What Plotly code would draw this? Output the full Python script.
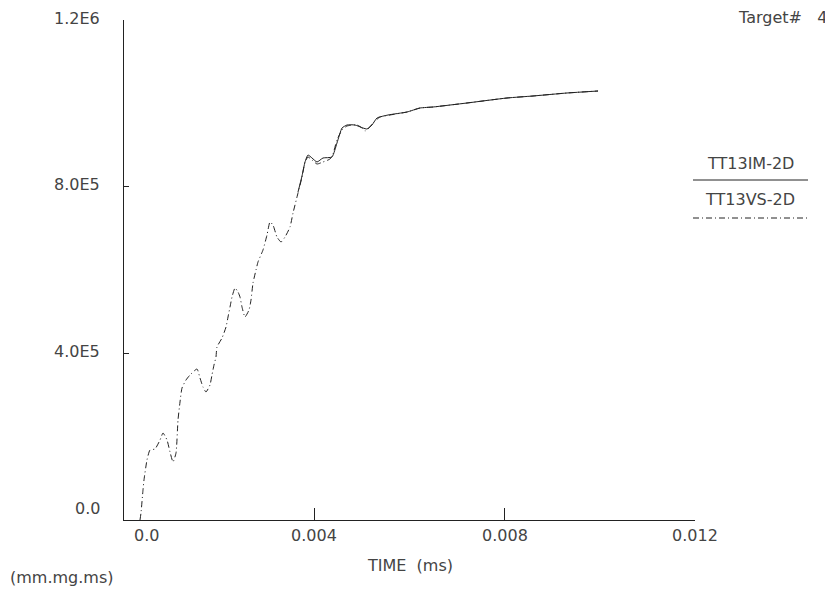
import plotly.graph_objects as go

# TT13VS-2D (dash-dot)
vs_time = [0.000336, 0.000357, 0.000399, 0.000420, 0.000483, 0.000546, 0.000651, 0.000757,
           0.000820, 0.000904, 0.000967, 0.001030, 0.001093, 0.001135, 0.001177, 0.001219,
           0.001303, 0.001387, 0.001534, 0.001597, 0.001660, 0.001723, 0.001807, 0.001849,
           0.001891, 0.001933, 0.001954, 0.002060, 0.002144, 0.002186, 0.002228, 0.002270,
           0.002333, 0.002396, 0.002438, 0.002480, 0.002543, 0.002627, 0.002669, 0.002711,
           0.002774, 0.002816, 0.002921, 0.003005, 0.003068, 0.003131, 0.003215, 0.003300,
           0.003384, 0.003489, 0.003552, 0.003657, 0.003741, 0.003804, 0.003867, 0.003951,
           0.004056, 0.004182, 0.004329, 0.004392, 0.004476, 0.004582, 0.004687, 0.004897,
           0.005002, 0.005065, 0.005128, 0.005233, 0.005380, 0.005590, 0.005948, 0.006221,
           0.006494, 0.007208, 0.008049, 0.008596, 0.009310, 0.009962]
vs_value = [0, 16800, 72000, 96000, 144000, 168000, 170400, 192000,
            208800, 192000, 163200, 139200, 160800, 240000, 283200, 316800,
            336000, 348000, 362400, 340800, 319200, 307200, 324000, 348000,
            372000, 391200, 415200, 436800, 463200, 487200, 511200, 535200,
            556800, 547200, 535200, 511200, 487200, 504000, 528000, 568800,
            600000, 619200, 648000, 684000, 715200, 708000, 679200, 667200,
            679200, 703200, 736800, 784800, 823200, 859200, 871200, 864000,
            854400, 859200, 866400, 878400, 912000, 936000, 945600, 948000,
            940800, 933600, 938400, 952800, 967200, 972000, 979200, 988800,
            991200, 1000800, 1012800, 1017600, 1024800, 1029600]

# TT13IM-2D (solid)
im_time = [0.003657, 0.003741, 0.003804, 0.003867, 0.003951, 0.004056, 0.004182, 0.004371,
           0.004476, 0.004582, 0.004687, 0.004855, 0.005023, 0.005107, 0.005212, 0.005317,
           0.005548, 0.005948, 0.006221, 0.006494, 0.007208, 0.008049, 0.008596, 0.009310,
           0.009962]
im_value = [787200, 825600, 859200, 876000, 868800, 859200, 868800, 871200,
            904800, 940800, 948000, 948000, 940800, 938400, 948000, 964800,
            972000, 979200, 988800, 991200, 1000800, 1012800, 1017600, 1024800,
            1029600]

x_ticks = [0.0, 0.004, 0.008, 0.012]
x_labels = ["0.0", "0.004", "0.008", "0.012"]
y_ticks = [0, 400000, 800000, 1200000]
y_labels = ["0.0", "4.0E5", "8.0E5", "1.2E6"]

FONT = "DejaVu Sans"
TXT = "#444444"
LINE = "#222222"
DASHDOT = "6px,3px,1px,3px"

# plot area in page pixels: x 124..695, y 20..520 (page body has an 8px margin)
def px(p):
    return (p - 124) / 571


def py(p):
    return (520 - p) / 500


fig = go.Figure()
fig.add_trace(go.Scatter(x=im_time, y=im_value, mode="lines", name="TT13IM-2D",
                         line=dict(color=LINE, width=1, shape="spline", smoothing=0.5)))
fig.add_trace(go.Scatter(x=vs_time, y=vs_value, mode="lines", name="TT13VS-2D",
                         line=dict(color=LINE, width=1, dash=DASHDOT,
                                   shape="spline", smoothing=0.5)))

fig.update_layout(
    width=825, height=582,
    margin=dict(l=116, r=138, t=12, b=70),
    paper_bgcolor="white", plot_bgcolor="white",
    showlegend=False,
    font=dict(family=FONT, size=16, color=TXT),
    xaxis=dict(range=[0, 0.012], showgrid=False, zeroline=False, showline=True,
               linecolor=LINE, linewidth=1, ticks="inside", ticklen=12,
               tickcolor=LINE, tickvals=x_ticks, showticklabels=False),
    yaxis=dict(range=[0, 1200000], showgrid=False, zeroline=False, showline=True,
               linecolor=LINE, linewidth=1, ticks="inside", ticklen=5,
               tickcolor=LINE, tickvals=y_ticks, showticklabels=False),
)

tf = dict(family=FONT, size=16, color=TXT)

# y tick labels (0.0 label raised like the original)
for v, lab in zip(y_ticks, y_labels):
    fig.add_annotation(x=0, xref="paper", y=v, yref="y", text=lab, showarrow=False,
                       xanchor="right", yanchor="middle", xshift=-22,
                       yshift=(12 if v == 0 else 2), font=tf)

# x tick labels (0.0 starts at the axis origin)
for v, lab in zip(x_ticks, x_labels):
    fig.add_annotation(x=v, xref="x", y=0, yref="paper", text=lab, showarrow=False,
                       xanchor=("left" if v == 0 else "center"), yanchor="middle",
                       xshift=(8 if v == 0 else 0), yshift=-15, font=tf)

fig.add_annotation(x=px(410), xref="paper", y=py(565), yref="paper",
                   text="TIME  (ms)", showarrow=False, xanchor="center", yanchor="middle", font=tf)
fig.add_annotation(x=px(8), xref="paper", y=py(577), yref="paper",
                   text="(mm.mg.ms)", showarrow=False, xanchor="left", yanchor="middle", font=tf)
fig.add_annotation(x=px(829), xref="paper", y=py(18), yref="paper",
                   text="Target#   4", showarrow=False, xanchor="right", yanchor="middle", font=tf)

# legend block
lx0, lx1 = px(693), px(808)
fig.add_annotation(x=px(750), xref="paper", y=py(163), yref="paper",
                   text="TT13IM-2D", showarrow=False, xanchor="center", yanchor="middle", font=tf)
fig.add_shape(type="line", xref="paper", yref="paper", x0=lx0, x1=lx1, y0=py(180), y1=py(180),
              line=dict(color=LINE, width=1))
fig.add_annotation(x=px(750), xref="paper", y=py(199), yref="paper",
                   text="TT13VS-2D", showarrow=False, xanchor="center", yanchor="middle", font=tf)
fig.add_shape(type="line", xref="paper", yref="paper", x0=lx0, x1=lx1, y0=py(218), y1=py(218),
              line=dict(color=LINE, width=1, dash=DASHDOT))

fig.write_html("out.html")
